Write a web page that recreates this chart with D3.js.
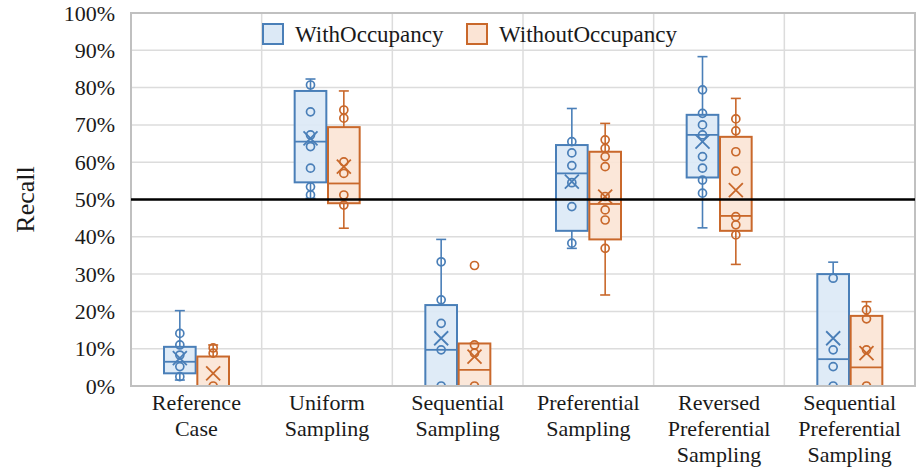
<!DOCTYPE html>
<html>
<head>
<meta charset="utf-8">
<script src="https://cdn.jsdelivr.net/npm/d3@7"></script>
<style>
  html, body { margin: 0; padding: 0; background: #fff; }
  svg { display: block; font-family: "Liberation Serif", "Times New Roman", serif; }
</style>
</head>
<body>
<svg id="chart" width="917" height="476"></svg>
<script>
// Categories (multi-line labels) and series
const categories = [
  ["Reference", "Case"],
  ["Uniform", "Sampling"],
  ["Sequential", "Sampling"],
  ["Preferential", "Sampling"],
  ["Reversed", "Preferential", "Sampling"],
  ["Sequential", "Preferential", "Sampling"]
];
const seriesNames = ["WithOccupancy", "WithoutOccupancy"];
const yTicks = [0, 10, 20, 30, 40, 50, 60, 70, 80, 90, 100];
const thresholdValue = 50;

// WithOccupancy box statistics (recall, %)
const withMin    = [1.6, 50.3, 0, 36.9, 42.4, 0];
const withQ1     = [3.4, 54.6, 0, 41.6, 55.9, 0];
const withMedian = [6.5, 65.5, 9.7, 57.0, 67.3, 7.2];
const withQ3     = [10.5, 79.1, 21.7, 64.6, 72.7, 30.0];
const withMax    = [20.2, 82.3, 39.3, 74.4, 88.3, 33.2];
const withMean   = [7.5, 66.4, 12.8, 54.8, 65.5, 12.8];
const withPoints = [
  [14.1, 11.0, 8.3, 5.2, 2.5],
  [80.7, 73.5, 67.3, 64.2, 58.4, 53.4, 51.2],
  [33.3, 23.1, 16.8, 9.7, 0],
  [65.5, 62.5, 59.1, 54.5, 48.1, 38.3],
  [79.4, 73.1, 70.0, 67.3, 61.5, 58.4, 55.2, 51.7],
  [28.9, 9.7, 5.2, 0]
];

// WithoutOccupancy box statistics (recall, %)
const withoutMin    = [0, 42.3, 0, 24.4, 32.6, 0];
const withoutQ1     = [0, 49.0, 0, 39.3, 41.6, 0];
const withoutMedian = [0, 54.3, 4.3, 48.8, 45.6, 5.0];
const withoutQ3     = [7.9, 69.4, 11.4, 62.8, 66.8, 18.8];
const withoutMax    = [11.0, 79.1, 11.4, 70.4, 77.1, 22.6];
const withoutMean   = [3.4, 58.8, 7.9, 50.8, 52.5, 8.8];
const withoutPoints = [
  [10.2, 8.8, 0],
  [74.0, 71.8, 60.1, 57.0, 51.2, 48.5],
  [32.3, 11.0, 8.8, 0],
  [66.0, 63.7, 61.5, 58.8, 50.8, 47.2, 44.5, 36.9],
  [71.6, 68.4, 62.8, 57.6, 45.4, 43.2, 40.5],
  [20.4, 18.0, 9.7, 0]
];

const strokeColors = ["#4a7fb8", "#c9682b"];
const fillColors = ["#dce9f6", "#fbe4d5"];

const seriesStats = [
  { min: withMin, q1: withQ1, median: withMedian, q3: withQ3, max: withMax, mean: withMean, points: withPoints },
  { min: withoutMin, q1: withoutQ1, median: withoutMedian, q3: withoutQ3, max: withoutMax, mean: withoutMean, points: withoutPoints }
];

const svg = d3.select("#chart");
const plot = { left: 131, right: 915, top: 13, bottom: 386 };

const catKeys = categories.map(c => c.join(" "));
const x0 = d3.scaleBand().domain(catKeys).range([plot.left, plot.right]);
const x1 = d3.scaleBand().domain(seriesNames).range([33, 98]).paddingInner(0.05);
const y = d3.scaleLinear().domain([0, 100]).range([plot.bottom, plot.top]);

// Gridlines
const grid = svg.append("g");
grid.selectAll("line.h").data(yTicks).join("line")
  .attr("x1", plot.left).attr("x2", plot.right)
  .attr("y1", d => y(d)).attr("y2", d => y(d))
  .attr("stroke", "#dcdcdc").attr("stroke-width", 1.5);
grid.selectAll("line.v").data(catKeys.slice(1)).join("line")
  .attr("x1", d => x0(d)).attr("x2", d => x0(d))
  .attr("y1", plot.top).attr("y2", plot.bottom)
  .attr("stroke", "#dcdcdc").attr("stroke-width", 1.5);

// Plot frame
svg.append("rect")
  .attr("x", plot.left).attr("y", plot.top)
  .attr("width", plot.right - plot.left).attr("height", plot.bottom - plot.top)
  .attr("fill", "none").attr("stroke", "#c0c0c0").attr("stroke-width", 2);

// Y axis labels
const yAxis = d3.axisLeft(y).tickValues(yTicks).tickFormat(d => d + "%").tickSize(0).tickPadding(16);
const yg = svg.append("g").attr("transform", `translate(${plot.left},0)`).call(yAxis);
yg.select(".domain").remove();
yg.selectAll("text")
  .attr("font-family", "Liberation Serif, serif")
  .attr("font-size", 22).attr("fill", "#1a1a1a");

svg.append("text")
  .attr("transform", `translate(34,${(plot.top + plot.bottom) / 2}) rotate(-90)`)
  .attr("text-anchor", "middle")
  .attr("font-size", 26).attr("fill", "#1a1a1a")
  .text("Recall");

// Category labels
const xl = svg.append("g");
categories.forEach((lines, i) => {
  const t = xl.append("text")
    .attr("x", x0(catKeys[i]) + x0.bandwidth() / 2)
    .attr("y", 410)
    .attr("text-anchor", "middle")
    .attr("font-size", 22).attr("fill", "#1a1a1a");
  lines.forEach((ln, j) => {
    t.append("tspan").attr("x", x0(catKeys[i]) + x0.bandwidth() / 2)
      .attr("dy", j === 0 ? 0 : 26).text(ln);
  });
});

// Clip for marks
svg.append("clipPath").attr("id", "plotClip").append("rect")
  .attr("x", plot.left).attr("y", plot.top - 2)
  .attr("width", plot.right - plot.left).attr("height", plot.bottom - plot.top + 1);

const marks = svg.append("g").attr("clip-path", "url(#plotClip)");

seriesStats.forEach((s, si) => {
  const sg = marks.append("g");
  const col = strokeColors[si];
  catKeys.forEach((ck, ci) => {
    const bx = x0(ck) + x1(seriesNames[si]);
    const bw = x1.bandwidth();
    const cx = bx + bw / 2;
    const g = sg.append("g");
    // whiskers
    g.append("line").attr("x1", cx).attr("x2", cx)
      .attr("y1", y(s.q3[ci])).attr("y2", y(s.max[ci]))
      .attr("stroke", col).attr("stroke-width", 1.6);
    g.append("line").attr("x1", cx).attr("x2", cx)
      .attr("y1", y(s.q1[ci])).attr("y2", y(s.min[ci]))
      .attr("stroke", col).attr("stroke-width", 1.6);
    [s.max[ci], s.min[ci]].forEach(v => {
      g.append("line").attr("x1", cx - 5).attr("x2", cx + 5)
        .attr("y1", y(v)).attr("y2", y(v))
        .attr("stroke", col).attr("stroke-width", 1.6);
    });
    // box
    g.append("rect")
      .attr("x", bx).attr("y", y(s.q3[ci]))
      .attr("width", bw).attr("height", Math.max(0, y(s.q1[ci]) - y(s.q3[ci])))
      .attr("fill", fillColors[si]).attr("fill-opacity", 0.9)
      .attr("stroke", col).attr("stroke-width", 2);
    // median
    g.append("line").attr("x1", bx).attr("x2", bx + bw)
      .attr("y1", y(s.median[ci])).attr("y2", y(s.median[ci]))
      .attr("stroke", col).attr("stroke-width", 1.8);
    // data points
    g.selectAll("circle").data(s.points[ci]).join("circle")
      .attr("cx", cx).attr("cy", d => y(d)).attr("r", 4)
      .attr("fill", "none").attr("stroke", col).attr("stroke-width", 1.7);
    // mean marker
    const my = y(s.mean[ci]);
    const h = 7;
    g.append("path")
      .attr("d", `M${cx - h},${my - h}L${cx + h},${my + h}M${cx - h},${my + h}L${cx + h},${my - h}`)
      .attr("stroke", col).attr("stroke-width", 1.8).attr("fill", "none");
  });
});

// 50% reference line
svg.append("line")
  .attr("x1", plot.left).attr("x2", plot.right)
  .attr("y1", y(thresholdValue)).attr("y2", y(thresholdValue))
  .attr("stroke", "#000").attr("stroke-width", 2.5);

// Legend
const legendX = [263, 467];
const legend = svg.append("g");
seriesNames.forEach((name, i) => {
  legend.append("rect")
    .attr("x", legendX[i]).attr("y", 24).attr("width", 20).attr("height", 20)
    .attr("fill", fillColors[i]).attr("stroke", strokeColors[i]).attr("stroke-width", 2);
  legend.append("text")
    .attr("x", legendX[i] + 32).attr("y", 42)
    .attr("font-size", 23).attr("fill", "#1a1a1a")
    .text(name);
});
</script>
</body>
</html>
